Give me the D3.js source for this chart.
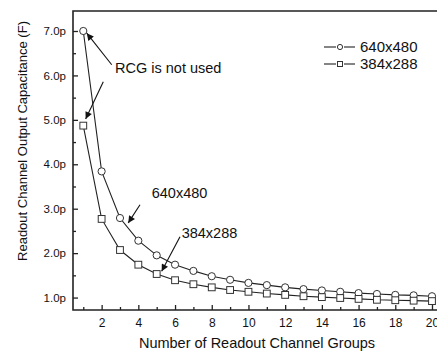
<!DOCTYPE html>
<html>
<head>
<meta charset="utf-8">
<script src="https://cdn.jsdelivr.net/npm/d3@7/dist/d3.min.js"></script>
<style>
  html, body { margin: 0; padding: 0; background: #fff; }
  svg { display: block; font-family: "Liberation Sans", Arial, sans-serif; }
</style>
</head>
<body>
<svg id="chart" width="437" height="352"></svg>
<script>
// Number of readout channel groups
const groups = d3.range(1, 21);
// Output capacitance (pF) for each array format
const cap640 = [7.00, 3.84, 2.79, 2.28, 1.95, 1.74, 1.60, 1.48, 1.40, 1.33,
                1.28, 1.23, 1.19, 1.16, 1.13, 1.10, 1.08, 1.06, 1.05, 1.03];
const cap384 = [4.87, 2.77, 2.07, 1.74, 1.53, 1.39, 1.30, 1.23, 1.17, 1.13,
                1.09, 1.06, 1.03, 1.01, 0.99, 0.97, 0.95, 0.94, 0.93, 0.92];
const seriesNames = ["640x480", "384x288"];
const xTicks = [2, 4, 6, 8, 10, 12, 14, 16, 18, 20];
const yTicks = [1, 2, 3, 4, 5, 6, 7];
const yTickLabels = ["1.0p", "2.0p", "3.0p", "4.0p", "5.0p", "6.0p", "7.0p"];

const svg = d3.select("#chart");
const ink = "#222";

const x = d3.scaleLinear().domain([0.44, 20.6]).range([73, 443]);
const y = d3.scaleLinear().domain([0.72, 7.45]).range([310, 11]);

// Axes with inward-facing ticks
const xMajor = d3.axisBottom(x).tickValues(xTicks).tickSize(-5).tickPadding(8).tickFormat(d3.format("d"));
const xMinor = d3.axisBottom(x).tickValues(d3.range(1, 21, 2)).tickSize(-3).tickFormat("");
const yMajor = d3.axisLeft(y).tickValues(yTicks).tickSize(-5).tickPadding(7)
  .tickFormat((d, i) => yTickLabels[i]);
const yMinor = d3.axisLeft(y).tickValues(d3.range(1.5, 7.5, 1)).tickSize(-3).tickFormat("");

function styleAxis(g, size) {
  g.select(".domain").remove();
  g.selectAll("line").attr("stroke", ink).attr("stroke-width", 1.3);
  g.selectAll("text").attr("fill", "#111").style("font-size", size + "px");
}

svg.append("g").attr("transform", "translate(0,310)").call(xMinor).call(styleAxis, 12);
svg.append("g").attr("transform", "translate(0,310)").call(xMajor).call(styleAxis, 12);
svg.append("g").attr("transform", "translate(73,0)").call(yMinor).call(styleAxis, 11.5);
svg.append("g").attr("transform", "translate(73,0)").call(yMajor).call(styleAxis, 11.5);

// Frame: left, bottom and top edges
svg.append("path")
  .attr("d", `M${x.range()[1]},${y.range()[1]}H${x.range()[0]}V${y.range()[0]}H${x.range()[1]}`)
  .attr("fill", "none").attr("stroke", ink).attr("stroke-width", 1.6);

// Axis titles
svg.append("text")
  .attr("x", 257).attr("y", 348)
  .attr("text-anchor", "middle")
  .style("font-size", "14.5px").attr("fill", "#111")
  .text("Number of Readout Channel Groups");
svg.append("text")
  .attr("transform", "translate(27,141) rotate(-90)")
  .attr("text-anchor", "middle")
  .style("font-size", "13px").attr("fill", "#111")
  .text("Readout Channel Output Capacitance (F)");

// Series lines and markers
const line = d3.line().x((d, i) => x(groups[i])).y(d => y(d));
const series = [cap640, cap384];
series.forEach((vals, si) => {
  svg.append("path").datum(vals)
    .attr("d", line).attr("fill", "none")
    .attr("stroke", ink).attr("stroke-width", 1.1);
  const g = svg.append("g");
  if (si === 0) {
    g.selectAll("circle").data(vals).join("circle")
      .attr("cx", (d, i) => x(groups[i])).attr("cy", d => y(d)).attr("r", 3.6)
      .attr("fill", "#fff").attr("stroke", "#333").attr("stroke-width", 1);
  } else {
    g.selectAll("rect").data(vals).join("rect")
      .attr("x", (d, i) => x(groups[i]) - 3.4).attr("y", d => y(d) - 3.4)
      .attr("width", 6.8).attr("height", 6.8)
      .attr("fill", "#fff").attr("stroke", "#333").attr("stroke-width", 1);
  }
});

// Arrow marker
svg.append("defs").append("marker")
  .attr("id", "arrow").attr("viewBox", "0 0 10 10")
  .attr("refX", 10).attr("refY", 5)
  .attr("markerWidth", 9).attr("markerHeight", 7)
  .attr("markerUnits", "userSpaceOnUse")
  .attr("orient", "auto")
  .append("path").attr("d", "M0,0L10,5L0,10z").attr("fill", "#111");

// Annotations, anchored in data coordinates
const notes = [
  { text: "RCG is not used", tx: 2.73, ty: 6.17,
    arrows: [[2.55, 6.24, 1.19, 6.95], [2.09, 5.86, 1.13, 5.02]] },
  { text: "640x480", tx: 4.73, ty: 3.35, arrows: [[4.09, 3.09, 3.45, 2.68]] },
  { text: "384x288", tx: 6.36, ty: 2.45, arrows: [[6.27, 2.37, 5.27, 1.59]] }
];
notes.forEach(n => {
  svg.append("text")
    .attr("x", x(n.tx)).attr("y", y(n.ty))
    .attr("dy", "0.35em")
    .style("font-size", "14.5px").attr("fill", "#111")
    .text(n.text);
  n.arrows.forEach(a => {
    svg.append("line")
      .attr("x1", x(a[0])).attr("y1", y(a[1]))
      .attr("x2", x(a[2])).attr("y2", y(a[3]))
      .attr("stroke", "#111").attr("stroke-width", 1.1)
      .attr("marker-end", "url(#arrow)");
  });
});

// Legend: dash, marker, dash, label
const legend = svg.append("g").attr("transform", "translate(324,47)");
seriesNames.forEach((name, i) => {
  const row = legend.append("g").attr("transform", `translate(0,${i * 17})`);
  row.append("line").attr("x1", 0).attr("x2", 12).attr("y1", 0).attr("y2", 0)
    .attr("stroke", ink).attr("stroke-width", 1.1);
  row.append("line").attr("x1", 20).attr("x2", 31).attr("y1", 0).attr("y2", 0)
    .attr("stroke", ink).attr("stroke-width", 1.1);
  if (i === 0) {
    row.append("circle").attr("cx", 16).attr("cy", 0).attr("r", 2.6)
      .attr("fill", "#fff").attr("stroke", "#333");
  } else {
    row.append("rect").attr("x", 13.5).attr("y", -2.5).attr("width", 5).attr("height", 5)
      .attr("fill", "#fff").attr("stroke", "#333");
  }
  row.append("text").attr("x", 36).attr("dy", "0.35em")
    .style("font-size", "15px").attr("fill", "#111").text(name);
});
</script>
</body>
</html>
